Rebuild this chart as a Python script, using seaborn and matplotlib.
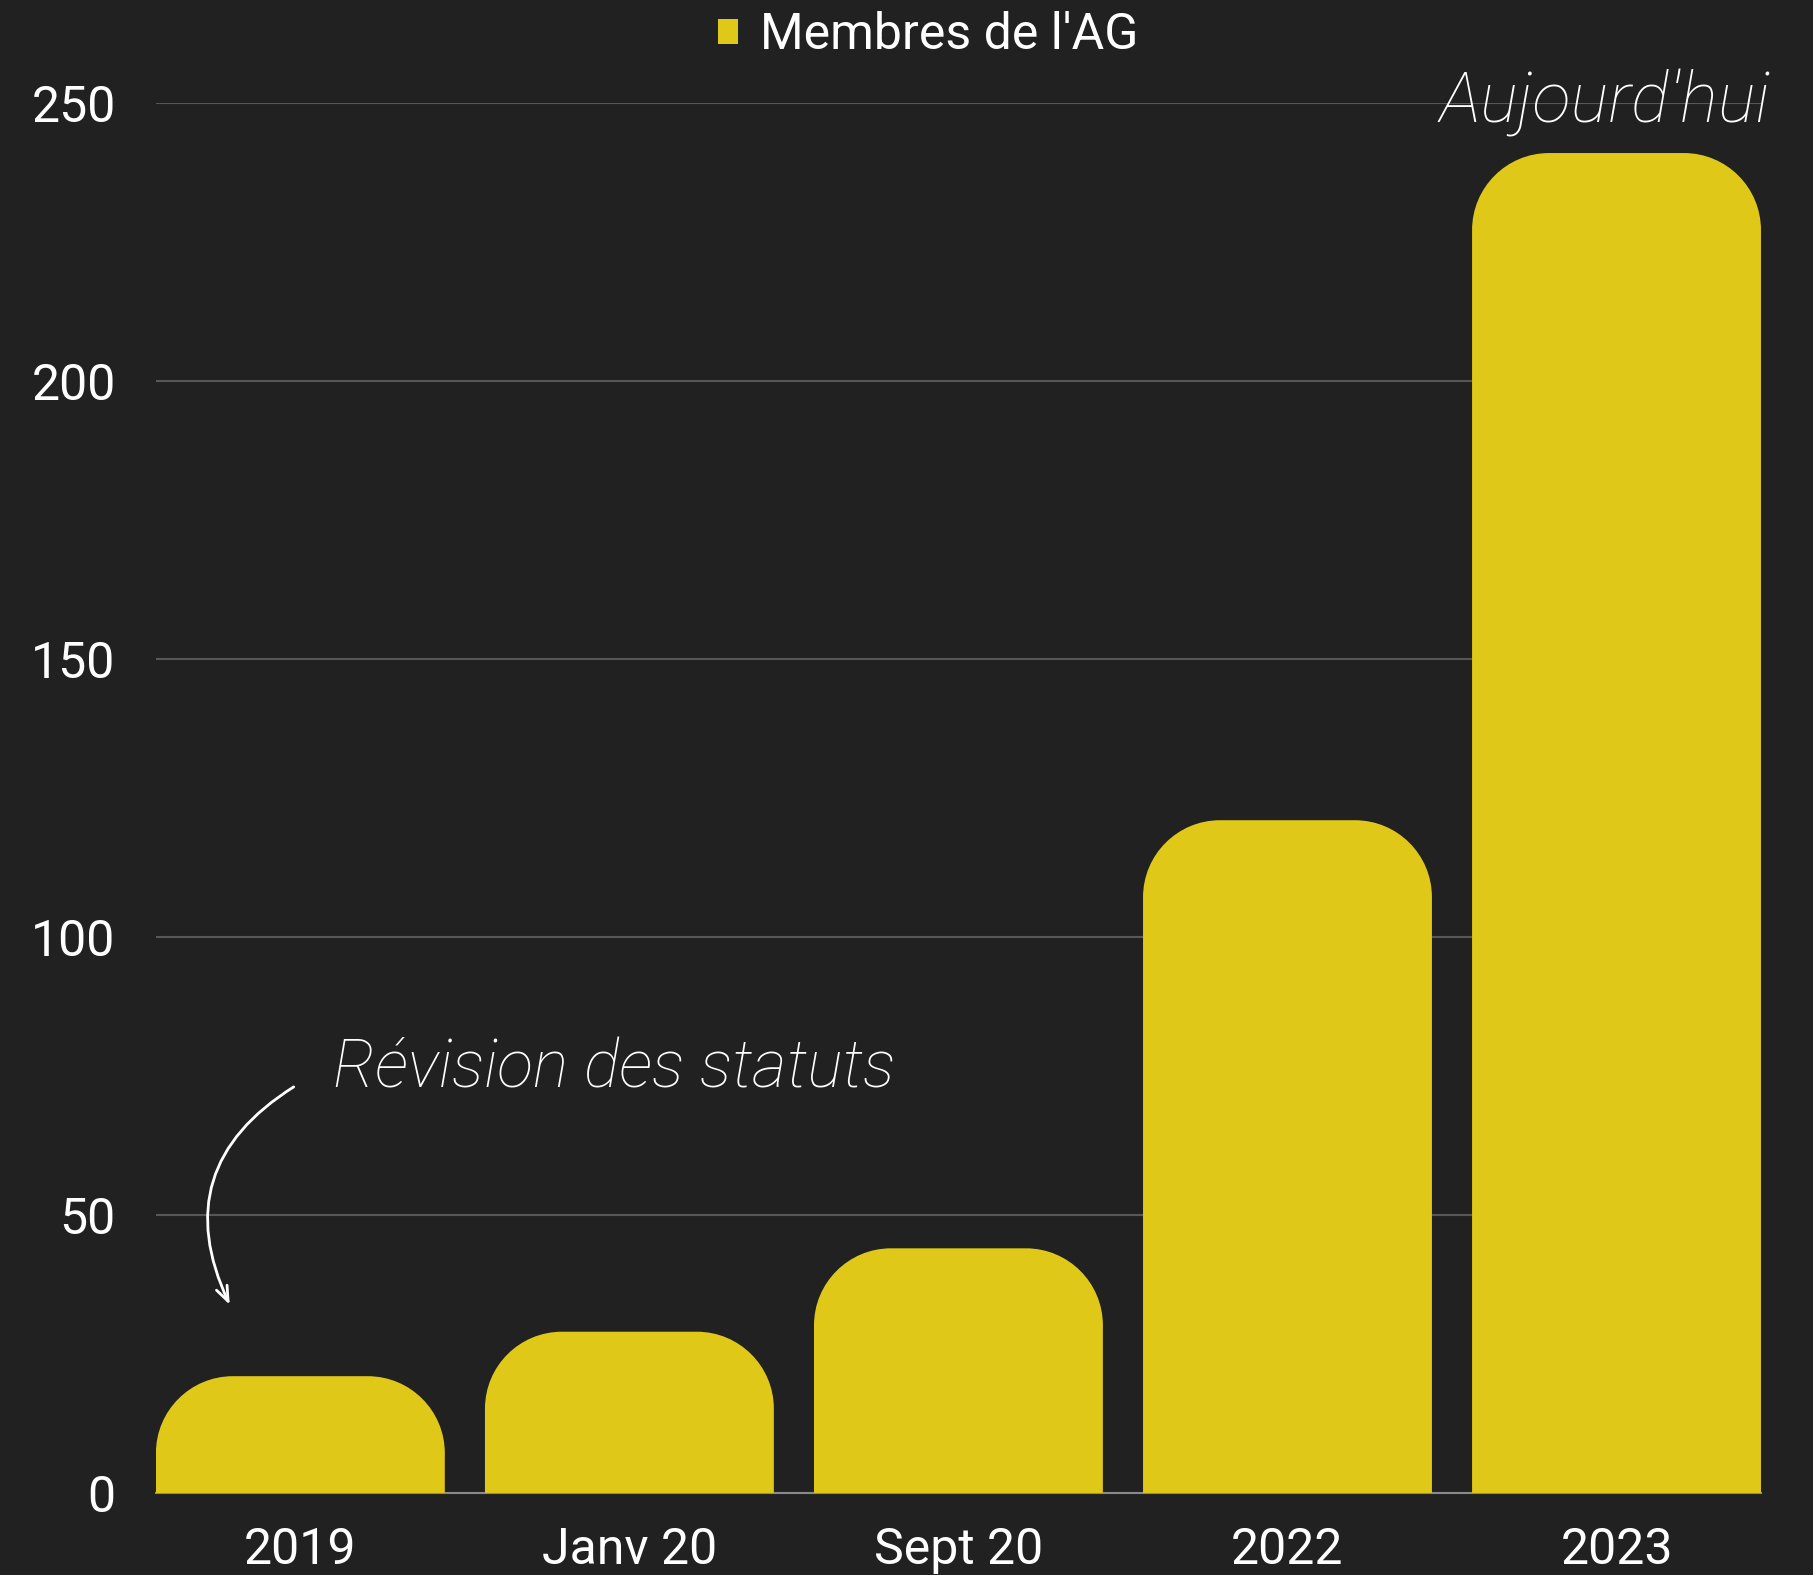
import numpy as np
import pandas as pd
import matplotlib
matplotlib.use("Agg")
import matplotlib.pyplot as plt
import seaborn as sns
from matplotlib.path import Path
from matplotlib.patches import PathPatch, Patch


periods = ["2019", "Janv 20", "Sept 20", "2022", "2023"]
members = [21, 29, 44, 121, 241]
y_ticks = [0, 50, 100, 150, 200, 250]

series_label = "Membres de l'AG"
note_left = "Révision des statuts"
note_right = "Aujourd'hui"

BG = "#212121"
BAR = "#E0C819"
GRID = "#575757"
FONT = "Roboto"
CORNER_PX = 77


def rounded_top(x0, x1, h, rx, ry):
    k = 0.5523
    ry = min(ry, h)
    verts = [
        (x0, 0), (x0, h - ry),
        (x0, h - ry + k * ry), (x0 + rx - k * rx, h), (x0 + rx, h),
        (x1 - rx, h),
        (x1 - rx + k * rx, h), (x1, h - ry + k * ry), (x1, h - ry),
        (x1, 0), (x0, 0)
    ]
    codes = [
        Path.MOVETO, Path.LINETO,
        Path.CURVE4, Path.CURVE4, Path.CURVE4,
        Path.LINETO,
        Path.CURVE4, Path.CURVE4, Path.CURVE4,
        Path.LINETO, Path.CLOSEPOLY
    ]
    return Path(verts, codes)


df = pd.DataFrame({"period": periods, "members": members})

sns.set_theme(style="dark")
plt.rcParams["font.family"] = [FONT, "DejaVu Sans"]

fig = plt.figure(figsize=(18.13, 15.75), dpi=100, facecolor=BG)
ax = fig.add_axes([0.086, 0.0521, 0.8853, 0.8825])
ax.set_facecolor(BG)

sns.barplot(data=df, x="period", y="members", color=BAR, width=0.878,
            saturation=1, ax=ax)

ax.set_xlim(-0.439, len(periods) - 1 + 0.439)
ax.set_ylim(0, 250)

# swap seaborn's square bars for bars with rounded top corners
px_per_x = ax.transData.transform((1, 0))[0] - ax.transData.transform((0, 0))[0]
px_per_y = ax.transData.transform((0, 1))[1] - ax.transData.transform((0, 0))[1]
rx = CORNER_PX / px_per_x
ry = CORNER_PX / px_per_y

for bar in list(ax.patches):
    x0 = bar.get_x()
    x1 = x0 + bar.get_width()
    h = bar.get_height()
    bar.set_visible(False)
    ax.add_patch(PathPatch(rounded_top(x0, x1, h, rx, ry),
                           facecolor=BAR, edgecolor="none", zorder=3))

ax.set_axisbelow(True)
ax.set_yticks(y_ticks)
ax.yaxis.grid(True, color=GRID, linewidth=1.5)
ax.xaxis.grid(False)
for side in ["top", "right", "left"]:
    ax.spines[side].set_visible(False)
ax.spines["bottom"].set_color("#8a8a8a")
ax.spines["bottom"].set_linewidth(1.5)

ax.tick_params(axis="y", length=0, pad=29, labelsize=36, labelcolor="white")
ax.tick_params(axis="x", length=0, pad=24, labelsize=36, labelcolor="white")
ax.set_xlabel("")
ax.set_ylabel("")

# handwritten style notes
ax.text(0.10, 73, note_left, fontsize=48, color="white",
        fontstyle="italic", fontweight="light", ha="left", va="baseline",
        zorder=5)
ax.text(3.965, 250, note_right, fontsize=51, color="white",
        fontstyle="italic", fontweight="light", ha="center", va="center",
        clip_on=False, zorder=5)

ax.annotate("", xy=(-0.211, 33.4), xytext=(-0.013, 73.3),
            arrowprops=dict(arrowstyle="->,head_length=0.9,head_width=0.35",
                            connectionstyle="arc3,rad=0.45",
                            color="white", lw=2))

fig.legend(handles=[Patch(facecolor=BAR, edgecolor="none", label=series_label)],
           loc="center", bbox_to_anchor=(928 / 1813, 1 - 35 / 1575),
           frameon=False, fontsize=36, labelcolor="white",
           handlelength=0.4, handleheight=0.4, handletextpad=0.45)

fig.savefig("out.png", dpi=100, facecolor=BG)
